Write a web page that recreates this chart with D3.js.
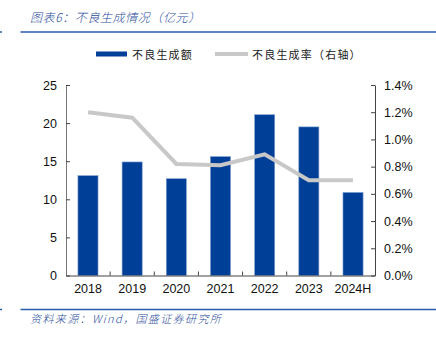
<!DOCTYPE html>
<html><head><meta charset="utf-8">
<script src="https://cdn.jsdelivr.net/npm/d3@7"></script>
<style>body{margin:0;background:#fff}svg{display:block}</style>
</head><body>
<script>
const categories = ["2018","2019","2020","2021","2022","2023","2024H"];
const amountValues = [13.1, 14.9, 12.7, 15.6, 21.1, 19.5, 10.9];
const rateValues = [1.20, 1.16, 0.82, 0.81, 0.89, 0.70, 0.70];
const leftTicks = [0, 5, 10, 15, 20, 25];
const rightTicks = [0, 0.2, 0.4, 0.6, 0.8, 1.0, 1.2, 1.4];
const titleText = "图表6：不良生成情况（亿元）";
const sourceText = "资料来源：Wind，国盛证券研究所";
const legendBar = "不良生成额";
const legendLine = "不良生成率（右轴）";

const W = 436, H = 337;
const m = {l: 66, r: 375, t: 85, b: 275.5};
const blue = "#003f98", grey = "#c8c8c8", navy = "#2b4c9b";
const cjk = "'Noto Sans CJK SC', sans-serif";
const latin = "'Liberation Sans', Arial, sans-serif";

const svg = d3.select("body").append("svg").attr("width", W).attr("height", H);

const x = d3.scaleBand().domain(categories).range([m.l, m.r]).paddingInner(0.545).paddingOuter(0.27);
const xc = d3.scaleBand().domain(categories).range([m.l, m.r]);
const yL = d3.scaleLinear().domain([0, 25]).range([m.b, m.t]);
const yR = d3.scaleLinear().domain([0, 1.4]).range([m.b, m.t]);

// title and rules
svg.append("text").attr("x", 30).attr("y", 22).attr("fill", navy)
  .attr("font-family", cjk).attr("font-size", 12).attr("font-weight", 300).attr("letter-spacing", 0.6)
  .attr("font-style", "italic").text(titleText);
[32, 309.5].forEach(yy => {
  svg.append("line").attr("x1", 20.5).attr("x2", W).attr("y1", yy).attr("y2", yy).attr("stroke", "#2a5caa").attr("stroke-width", 1.5);
  svg.append("line").attr("x1", 0).attr("x2", 2).attr("y1", yy).attr("y2", yy).attr("stroke", "#2a5caa").attr("stroke-width", 1.5);
});
svg.append("text").attr("x", 30).attr("y", 323).attr("fill", navy)
  .attr("font-family", cjk).attr("font-size", 11).attr("font-weight", 300).attr("letter-spacing", 1.4)
  .attr("font-style", "italic").text(sourceText);

// legend
svg.append("rect").attr("x", 96).attr("y", 51.5).attr("width", 31).attr("height", 5).attr("fill", blue);
svg.append("text").attr("x", 132).attr("y", 58.5).attr("font-family", cjk).attr("font-size", 11)
  .attr("letter-spacing", 1.2).attr("fill", "#222").text(legendBar);
svg.append("line").attr("x1", 215).attr("x2", 248).attr("y1", 54).attr("y2", 54).attr("stroke", grey).attr("stroke-width", 4);
svg.append("text").attr("x", 252).attr("y", 58.5).attr("font-family", cjk).attr("font-size", 11)
  .attr("letter-spacing", 1.2).attr("fill", "#222").text(legendLine);

// bars
svg.append("g").selectAll("rect").data(categories).join("rect")
  .attr("x", d => x(d)).attr("width", x.bandwidth())
  .attr("y", (d, i) => yL(amountValues[i])).attr("height", (d, i) => m.b - yL(amountValues[i]))
  .attr("fill", blue).attr("stroke", "#7f9fd0").attr("stroke-width", 0.6);

// line
const line = d3.line().x((d, i) => xc(categories[i]) + xc.bandwidth() / 2).y(d => yR(d));
svg.append("path").datum(rateValues).attr("d", line).attr("fill", "none")
  .attr("stroke", grey).attr("stroke-width", 4).attr("stroke-linejoin", "miter");

// axes
const axL = svg.append("g").attr("transform", `translate(${m.l},0)`)
  .call(d3.axisLeft(yL).tickValues(leftTicks).tickSizeInner(-4).tickSizeOuter(0).tickPadding(9));
const axR = svg.append("g").attr("transform", `translate(${m.r},0)`)
  .call(d3.axisRight(yR).tickValues(rightTicks).tickSizeInner(-4).tickSizeOuter(0).tickPadding(9).tickFormat(d => d.toFixed(1) + "%"));
const axB = svg.append("g").attr("transform", `translate(0,${m.b})`)
  .call(d3.axisBottom(xc).tickSize(0).tickPadding(9));
svg.append("g").selectAll("line").data(categories.slice(1)).join("line")
  .attr("x1", d => xc(d)).attr("x2", d => xc(d)).attr("y1", m.b).attr("y2", m.b - 4)
  .attr("stroke", "#444");
[axL, axR, axB].forEach(a => {
  a.selectAll("path,line").attr("stroke", "#444");
  a.selectAll("text").attr("font-family", latin).attr("font-size", 12.5).attr("fill", "#111");
});
axL.select("path").attr("stroke", "#777");
</script>
</body></html>
